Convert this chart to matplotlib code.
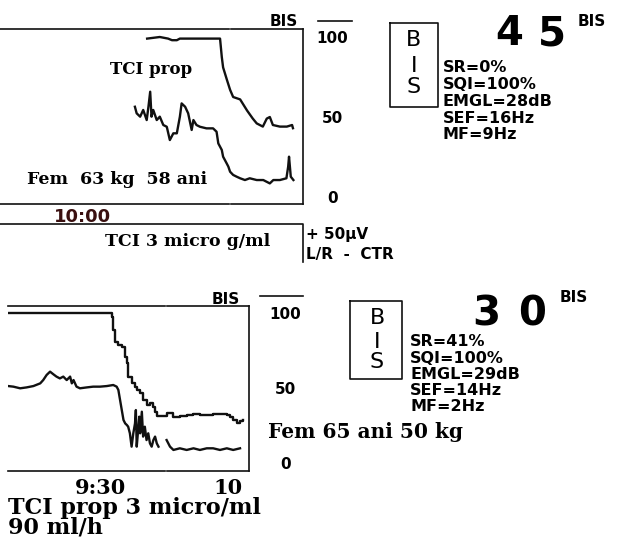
import matplotlib
matplotlib.use("Agg")
import matplotlib.pyplot as plt
from matplotlib.lines import Line2D
import numpy as np

# ---- data (minutes after 9:00, BIS values) ----
# panel 1
p1_upper_t = [74.9, 77.8, 79.7, 80.6, 81.7, 82.4, 87.0, 90.4, 91.6, 92.0, 92.3, 93.2, 93.9,
              94.6, 96.2, 97.8, 99.1, 100.0, 100.7, 101.4, 102.3, 103.0, 103.7, 105.3,
              106.9, 108.1, 108.3]
p1_upper_v = [99, 100, 99, 98, 98, 99, 99, 99, 99, 87.5, 81, 73, 67,
              62.5, 61, 54, 49, 46, 45, 44, 49, 50, 45, 44,
              44, 45, 43]
p1_lower_t = [72.1, 72.5, 73.3, 74.0, 74.8, 75.2, 75.6, 75.9, 76.3, 77.1, 77.8, 78.6, 79.4,
              80.1, 80.9, 81.7, 82.4, 82.8, 83.6, 84.3, 85.1, 85.5, 86.2, 87.0, 88.5,
              90.0, 90.8, 91.2, 92.0, 92.3, 93.1, 93.5, 93.9, 94.6, 95.4, 96.2, 97.3,
              98.4, 100.0, 101.5, 103.0, 103.8, 105.3, 106.8, 107.2, 107.4, 107.8, 108.4]
p1_lower_v = [56.4, 52.3, 50.2, 54.4, 48.1, 56.4, 65.8, 50.2, 54.4, 48.1, 50.2, 45, 43.9,
              35.6, 39.8, 39.8, 50.2, 58.5, 56.4, 52.3, 41.9, 48.1, 45, 43.9, 42.9,
              42.9, 40.8, 33.5, 29.4, 25.2, 21.1, 19, 15.8, 13.8, 12.7, 11.7, 10.6,
              11.7, 10.6, 10.6, 8.5, 10.6, 10.6, 11.7, 18.9, 25.2, 12.7, 10.6]

# panel 2
p2_upper_t = [8.5, 14.4, 22.2, 32.3, 32.7, 33.1, 33.5, 34.3, 35.1, 35.9, 36.3, 36.6, 37.4,
              38.2, 38.6, 39.4, 40.1, 40.9, 41.7, 42.5, 42.9, 43.3, 44.1, 44.8, 45.6,
              47.2, 48.7, 50.3, 51.9, 53.4, 56.5, 59.7, 60.4, 61.2, 62.0, 62.8, 63.6]
p2_upper_v = [100, 100, 100, 100, 97.6, 88.7, 80.9, 78.7, 77.6, 70.9, 66.4, 57.6, 53.1,
              50.9, 48.7, 46.4, 42, 38.7, 39.8, 37.6, 34.2, 31.3, 31.3, 31.3, 33.1,
              30.9, 31.3, 32, 32.7, 32, 32.7, 32, 30.9, 28.7, 26.9, 28.2, 28.7]
p2_lower_t = [8.5, 9.7, 11.3, 12.8, 14.4, 16.0, 16.7, 17.5, 18.3, 19.1, 19.8, 20.6, 21.4,
              22.2, 23.0, 23.4, 23.8, 24.5, 25.3, 26.9, 28.4, 30.0, 31.6, 33.1, 33.9,
              34.3, 34.7, 35.1, 35.5, 35.9, 36.3, 36.6, 37.0, 37.4, 37.8, 38.2, 38.4,
              38.6, 39.0, 39.2, 39.4, 39.8, 40.1, 40.5, 40.9, 41.3, 41.7, 42.1, 42.5,
              42.9, 43.3, 43.7, 44.5, 45.6, 46.4, 47.2, 48.7, 50.3, 51.9, 53.4, 55.0,
              56.5, 58.1, 59.7, 61.2, 62.8]
p2_lower_v = [51.3, 50.9, 49.8, 50.4, 51.3, 53.1, 55.3, 58.7, 60.9, 59.1, 57.6, 56.4, 57.6,
              55.3, 57.6, 53.1, 55.3, 50.9, 49.8, 50.4, 50.9, 50.9, 51.3, 52, 50.9,
              48.7, 42, 35.3, 28.7, 26.4, 25.3, 24.2, 19.8, 10.9, 19.8, 26.4, 35.3,
              10.9, 24.2, 30.9, 19.8, 34.2, 17.6, 24.2, 15.3, 19.8, 13.1, 10.9, 15.3,
              17.6, 13.1, 10.9, np.nan, 15.3, 10.9, 8.7, 9.8, 8.7, 9.8, 8.7, 9.8,
              9.8, 8.7, 9.8, 8.7, 9.8]

bis_ticks = [0, 50, 100]
stats1 = ["SR=0%", "SQI=100%", "EMGL=28dB", "SEF=16Hz", "MF=9Hz"]
stats2 = ["SR=41%", "SQI=100%", "EMGL=29dB", "SEF=14Hz", "MF=2Hz"]

W, H = 620, 539
fig = plt.figure(figsize=(W / 100, H / 100), dpi=100)
fig.patch.set_facecolor("white")

INK = "#111111"
SERIF = "DejaVu Serif"
MON = "DejaVu Sans"


def fx(x):
    return x / W


def fy(y):
    return 1 - y / H


def ax_at(x0, y0, x1, y1):
    return fig.add_axes([fx(x0), fy(y1), fx(x1) - fx(x0), (y1 - y0) / H])


def fline(xs, ys, lw=1.2):
    fig.add_artist(Line2D([fx(x) for x in xs], [fy(y) for y in ys], color=INK, lw=lw))


def frame(ax, gap):
    for s in ["left", "top", "bottom"]:
        ax.spines[s].set_visible(False)
    ax.spines["right"].set_linewidth(1.2)
    ax.spines["right"].set_color(INK)
    for yy in (0, 1):
        ax.plot([0, gap - 0.004], [yy, yy], transform=ax.transAxes, color=INK, lw=1.2, clip_on=False)
        ax.plot([gap + 0.004, 1], [yy, yy], transform=ax.transAxes, color=INK, lw=1.2, clip_on=False)


# ---- panel 1 ----
ax1 = ax_at(0, 29, 303, 204)
ax1.plot(p1_upper_t, p1_upper_v, color=INK, lw=1.7)
ax1.plot(p1_lower_t, p1_lower_v, color=INK, lw=1.7)
ax1.set_xlim(41.2, 110.6)
ax1.set_ylim(-4.375, 105)
frame(ax1, 230 / 303)
ax1.yaxis.tick_right()
ax1.set_yticks(bis_ticks)
ax1.set_yticklabels([str(v) for v in bis_ticks], fontsize=11, fontweight="bold", family=MON, ha="center")
ax1.tick_params(axis="y", length=0, pad=21)
ax1.set_xticks([60])
ax1.set_xticklabels(["10:00"], fontsize=13, fontweight="bold", family=MON, color="#3a1010")
ax1.tick_params(axis="x", length=0, pad=3)

fig.text(fx(110), fy(70), "TCI prop", fontsize=12, fontweight="bold", family=SERIF, va="center")
fig.text(fx(27), fy(180), "Fem  63 kg  58 ani", fontsize=12.5, fontweight="bold", family=SERIF, va="center")
fig.text(fx(270), fy(21), "BIS", fontsize=11, fontweight="bold", family=MON, va="center")
fline([318, 352], [21, 21])

# lower info box
fline([0, 303, 303], [224, 224, 262])
fig.text(fx(105), fy(241), "TCI 3 micro g/ml", fontsize=12.5, fontweight="bold", family=SERIF, va="center")
fig.text(fx(306), fy(234), "+ 50\u00b5V", fontsize=11, fontweight="bold", family=MON, va="center")
fig.text(fx(306), fy(255), "L/R  -  CTR", fontsize=11, fontweight="bold", family=MON, va="center")

# BIS box 1
fline([390, 438, 438, 390, 390], [23, 23, 107, 107, 23])
for ch, yy in zip("BIS", [40, 66, 87]):
    fig.text(fx(414), fy(yy), ch, fontsize=16, family=MON, ha="center", va="center")
fig.text(fx(509), fy(34), "4", fontsize=29, fontweight="bold", family=MON, ha="center", va="center")
fig.text(fx(552), fy(34), "5", fontsize=29, fontweight="bold", family=MON, ha="center", va="center")
fig.text(fx(578), fy(21), "BIS", fontsize=11, fontweight="bold", family=MON, va="center")
for i, s in enumerate(stats1):
    fig.text(fx(443), fy(68 + 16.7 * i), s, fontsize=11.5, fontweight="bold", family=MON, va="center")

# ---- panel 2 ----
ax2 = ax_at(8, 306, 249, 471)
ax2.plot(p2_upper_t, p2_upper_v, color=INK, lw=1.7, drawstyle="steps-post")
ax2.plot(p2_lower_t, p2_lower_v, color=INK, lw=1.7)
ax2.set_xlim(8.45, 64.9)
ax2.set_ylim(-5.33, 104.67)
frame(ax2, (166 - 8) / 241)
ax2.yaxis.tick_right()
ax2.set_yticks(bis_ticks)
ax2.set_yticklabels([str(v) for v in bis_ticks], fontsize=11, fontweight="bold", family=MON, ha="center")
ax2.tick_params(axis="y", length=0, pad=26)
ax2.set_xticks([30, 60])
ax2.set_xticklabels(["9:30", "10"], fontsize=15, fontweight="bold", family=SERIF)
ax2.tick_params(axis="x", length=0, pad=5)

fig.text(fx(212), fy(299), "BIS", fontsize=11, fontweight="bold", family=MON, va="center")
fline([260, 303], [296, 296])
fig.text(fx(268), fy(432), "Fem 65 ani 50 kg", fontsize=14.5, fontweight="bold", family=SERIF, va="center")
fig.text(fx(8), fy(508), "TCI prop 3 micro/ml", fontsize=16, fontweight="bold", family=SERIF, va="center")
fig.text(fx(8), fy(528), "90 ml/h", fontsize=16, fontweight="bold", family=SERIF, va="center")

fline([350, 402, 402, 350, 350], [301, 301, 379, 379, 301])
for ch, yy in zip("BIS", [318, 342, 362]):
    fig.text(fx(377), fy(yy), ch, fontsize=16, family=MON, ha="center", va="center")
fig.text(fx(486), fy(315), "3", fontsize=29, fontweight="bold", family=MON, ha="center", va="center")
fig.text(fx(532), fy(315), "0", fontsize=29, fontweight="bold", family=MON, ha="center", va="center")
fig.text(fx(560), fy(298), "BIS", fontsize=11, fontweight="bold", family=MON, va="center")
for i, s in enumerate(stats2):
    fig.text(fx(410), fy(342 + 16.2 * i), s, fontsize=11.5, fontweight="bold", family=MON, va="center")

fig.savefig("out.png", dpi=100, facecolor="white")
